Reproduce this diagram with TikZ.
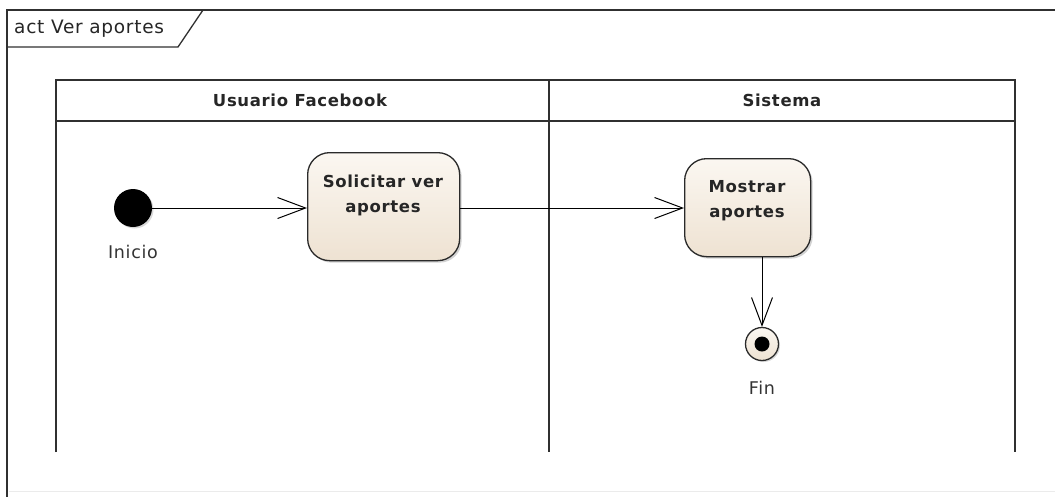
\documentclass[tikz,border=0pt]{standalone}
\usepackage{fontspec}
\setmainfont{DejaVu Sans}[LetterSpace=4]
\usetikzlibrary{arrows.meta,shadows}
\definecolor{framec}{HTML}{303030}
\definecolor{nodetop}{HTML}{FBF7F1}
\definecolor{nodebot}{HTML}{EEE2D2}
\definecolor{nodeline}{HTML}{2A2A2A}
\tikzset{
  frameline/.style={draw=framec,line width=1.3pt},
  laneline/.style={draw=framec,line width=1.5pt},
  lanetitle/.style={font=\bfseries\fontsize{16.5}{19}\selectfont,text=black!85},
  action/.style={rounded corners=22pt,draw=nodeline,line width=1.3pt,
     top color=nodetop,bottom color=nodebot,
     drop shadow={shadow xshift=2pt,shadow yshift=-2pt,opacity=0.35}},
  acttext/.style={align=center,font=\bfseries\fontsize{16.5}{25}\selectfont,text=black!85},
  flow/.style={draw=black,line width=1pt,-{Straight Barb[length=28pt,width=21pt,line width=1pt]}},
  lbl/.style={font=\fontsize{17.5}{20}\selectfont,text=black!80}
}
\begin{document}
\begin{tikzpicture}[x=1pt,y=-1pt]
\useasboundingbox (0,0) rectangle (1055,496);
\fill[white] (0,0) rectangle (1055,496);
% outer frame
\draw[frameline] (1060,10) -- (7,10) -- (7,500);
\draw[draw=black!8,line width=0.8pt] (9,491) -- (1055,491);
% tab
\draw[frameline] (7,47) -- (178,47) -- (203,10);
\node[anchor=west,font=\fontsize{18.5}{21}\selectfont,text=black!85,inner sep=0pt] (tab) at (14,29) {act Ver aportes};
% lanes
\draw[laneline] (56,452) -- (56,80) -- (1015,80) -- (1015,452);
\draw[laneline] (56,121) -- (1015,121);
\draw[laneline] (549,80) -- (549,452);
\node[lanetitle] (l1) at (300,100) {Usuario Facebook};
\node[lanetitle] (l2) at (782,100) {Sistema};
% initial
\node[circle,fill=black,minimum size=38pt,inner sep=0pt,
  drop shadow={shadow xshift=1.5pt,shadow yshift=-1.5pt,opacity=0.3}] (ini) at (133,208) {};
\node[lbl] (inilbl) at (133,252) {Inicio};
% actions
\node[action,minimum width=152pt,minimum height=108pt,anchor=north west] (sol) at (307,152) {};
\node[acttext] (soltxt) at (383,195) {Solicitar ver\\aportes};
\node[action,minimum width=126pt,minimum height=98pt,anchor=north west] (mos) at (684,158) {};
\node[acttext] (mostxt) at (747,201) {Mostrar\\aportes};
% final
\node[circle,draw=nodeline,line width=1.3pt,top color=nodetop,bottom color=nodebot,
  minimum size=33pt,inner sep=0pt,
  drop shadow={shadow xshift=1.5pt,shadow yshift=-1.5pt,opacity=0.3}] (fin) at (762,344) {};
\fill[black] (fin.center) circle (7.5pt);
\node[lbl] (finlbl) at (762,388) {Fin};
% flows
\draw[flow] (ini.east) -- (sol.west |- ini.east);
\draw[flow] (sol.east |- ini.east) -- (mos.west |- ini.east);
\draw[flow] (mos.south -| fin.north) -- (fin.north);
\end{tikzpicture}
\end{document}
